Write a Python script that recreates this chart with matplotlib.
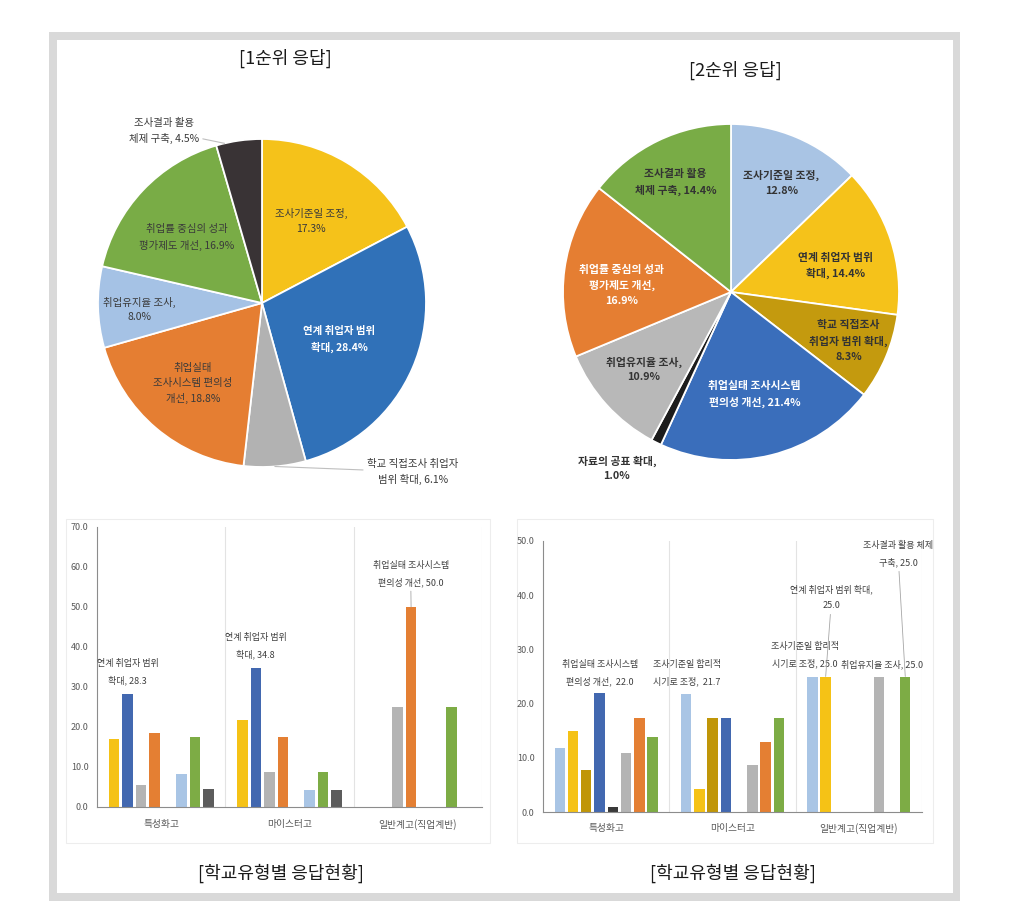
import numpy as np
import matplotlib.pyplot as plt
from matplotlib.patches import Rectangle

plt.rcParams['font.family'] = ['Noto Sans CJK KR', 'DejaVu Sans']

W, H = 1018, 908
NARROW = ['Liberation Sans Narrow', 'Noto Sans CJK KR', 'DejaVu Sans']

# ---- 1순위 응답 (pie) ----
pie1_fmt = ['조사기준일 조정,\n{:.1f}%', '연계 취업자 범위\n확대, {:.1f}%',
            '학교 직접조사 취업자\n범위 확대, {:.1f}%', '취업실태\n조사시스템 편의성\n개선, {:.1f}%',
            '취업유지율 조사,\n{:.1f}%', '취업률 중심의 성과\n평가제도 개선, {:.1f}%',
            '조사결과 활용\n체제 구축, {:.1f}%']
pie1_values = [17.3, 28.4, 6.1, 18.8, 8.0, 16.9, 4.5]
pie1_colors = ['#F5C21A', '#3071B8', '#B2B2B2', '#E57E32', '#A5C2E5', '#79AC46', '#393335']

# ---- 2순위 응답 (pie) ----
pie2_fmt = ['조사기준일 조정,\n{:.1f}%', '연계 취업자 범위\n확대, {:.1f}%',
            '학교 직접조사\n취업자 범위 확대,\n{:.1f}%', '취업실태 조사시스템\n편의성 개선, {:.1f}%',
            '자료의 공표 확대,\n{:.1f}%', '취업유지율 조사,\n{:.1f}%',
            '취업률 중심의 성과\n평가제도 개선,\n{:.1f}%', '조사결과 활용\n체제 구축, {:.1f}%']
pie2_values = [12.8, 14.4, 8.3, 21.4, 1.0, 10.9, 16.9, 14.4]
pie2_colors = ['#A9C4E4', '#F5C21A', '#C49A0E', '#3A6EBB', '#1C1C1C', '#B8B8B8', '#E57E32', '#79AC46']

# ---- 학교유형별 응답현황 ----
school_types = ['특성화고', '마이스터고', '일반계고(직업계반)']

bar1_values = [
    [17.0, 21.7, 0.0],   # 조사기준일 조정
    [28.3, 34.8, 0.0],   # 연계 취업자 범위 확대
    [5.5, 8.7, 25.0],    # 학교 직접조사 취업자 범위 확대
    [18.5, 17.4, 50.0],  # 취업실태 조사시스템 편의성 개선
    [0.0, 0.0, 0.0],     # 자료의 공표 확대
    [8.3, 4.3, 0.0],     # 취업유지율 조사
    [17.4, 8.7, 25.0],   # 취업률 중심의 성과평가제도 개선
    [4.5, 4.3, 0.0],     # 조사결과 활용 체제 구축
]
bar1_colors = ['#F5C216', '#4268B0', '#B4B4B4', '#E47F33', '#333333', '#A9C5E5', '#7DAC45', '#5C5C5C']

bar2_values = [
    [11.9, 21.7, 25.0],  # 조사기준일 합리적 시기로 조정
    [15.0, 4.3, 25.0],   # 연계 취업자 범위 확대
    [7.7, 17.4, 0.0],    # 학교 직접조사 취업자 범위 확대
    [22.0, 17.4, 0.0],   # 취업실태 조사시스템 편의성 개선
    [1.0, 0.0, 0.0],     # 자료의 공표 확대
    [10.8, 8.7, 25.0],   # 취업유지율 조사
    [17.4, 13.0, 0.0],   # 취업률 중심의 성과평가제도 개선
    [13.9, 17.4, 25.0],  # 조사결과 활용 체제 구축
]
bar2_colors = ['#A9C5E5', '#F5C216', '#C09608', '#4268B0', '#3A3A3A', '#B4B4B4', '#E47F33', '#7DAC45']


def box(x0, y0, x1, y1):
    return [x0 / W, 1 - y1 / H, (x1 - x0) / W, (y1 - y0) / H]


fig = plt.figure(figsize=(W / 100, H / 100), dpi=100)

# gray frame
fig.patches.append(Rectangle((49 / W, 1 - 901 / H), (960 - 49) / W, (901 - 32) / H,
                             transform=fig.transFigure, facecolor='#D9D9D9', edgecolor='none', zorder=-2))
fig.patches.append(Rectangle((57 / W, 1 - 893 / H), (953 - 57) / W, (893 - 40) / H,
                             transform=fig.transFigure, facecolor='white', edgecolor='none', zorder=-1))
# faint chart-area borders
for x0, y0, x1, y1 in [(66, 519, 490, 843), (517, 519, 933, 843)]:
    fig.patches.append(Rectangle((x0 / W, 1 - y1 / H), (x1 - x0) / W, (y1 - y0) / H,
                                 transform=fig.transFigure, facecolor='none', edgecolor='#EDEDED',
                                 lw=0.8, zorder=-1))


def pie_axes(cx, cy, r, values, colors):
    ax = fig.add_axes(box(cx - r, cy - r, cx + r, cy + r))
    wedges, _ = ax.pie(values, colors=colors, startangle=90, counterclock=False,
                       wedgeprops=dict(edgecolor='white', linewidth=1.3))
    ax.set_xlim(-1, 1)
    ax.set_ylim(-1, 1)
    ax.axis('off')
    return ax, wedges


# pie 1
ax_p1, w1 = pie_axes(262, 303, 164, pie1_values, pie1_colors)
p1_texts = [f.format(v) for f, v in zip(pie1_fmt, pie1_values)]
p1_xy = [(0.30, 0.50), (0.47, -0.22), (0.92, -1.03), (-0.42, -0.49),
         (-0.75, -0.04), (-0.46, 0.40), (-0.60, 1.05)]
p1_tc = ['#3A3A3A', 'white', '#3A3A3A', '#3A3A3A', '#3A3A3A', '#3A3A3A', '#3A3A3A']
for i, (t, (x, y), c) in enumerate(zip(p1_texts, p1_xy, p1_tc)):
    w = w1[i]
    if i in (2, 6):
        ang = np.deg2rad(w.theta2 - 3 if i == 6 else (w.theta1 + w.theta2) / 2)
        ax_p1.annotate(t, xy=(np.cos(ang), np.sin(ang)), xytext=(x, y), ha='center', va='center',
                       fontsize=7.5, color=c, linespacing=1.6, annotation_clip=False,
                       arrowprops=dict(arrowstyle='-', color='#BFBFBF', lw=0.8, shrinkA=1, shrinkB=0))
    else:
        ax_p1.text(x, y, t, ha='center', va='center', fontsize=7.5, color=c,
                   fontweight='bold' if c == 'white' else 'normal', linespacing=1.6)

# pie 2
ax_p2, w2 = pie_axes(731, 292, 168, pie2_values, pie2_colors)
p2_texts = [f.format(v) for f, v in zip(pie2_fmt, pie2_values)]
p2_xy = [(0.30, 0.65), (0.625, 0.155), (0.70, -0.29), (0.14, -0.61),
         (-0.68, -1.05), (-0.52, -0.46), (-0.65, 0.04), (-0.33, 0.65)]
p2_tc = ['#333333', '#333333', '#333333', 'white', '#333333', '#333333', 'white', '#333333']
for t, (x, y), c in zip(p2_texts, p2_xy, p2_tc):
    ax_p2.text(x, y, t, ha='center', va='center', fontsize=7.8, color=c,
               fontweight='bold', linespacing=1.6)

# titles
for x, y, t in [(285, 58, '[1순위 응답]'), (735, 70, '[2순위 응답]'),
                (281, 873, '[학교유형별 응답현황]'), (733, 873, '[학교유형별 응답현황]')]:
    fig.text(x / W, 1 - y / H, t, ha='center', va='center', fontsize=13,
             color='#1A1A1A', fontweight='light')


def bar_chart(rect, values, colors, ymax, xpad):
    ax = fig.add_axes(rect)
    ax.set_facecolor('none')
    pitch, bw = 0.105, 0.082
    x = np.arange(len(school_types))
    centers = []
    for i, (vals, c) in enumerate(zip(values, colors)):
        cx = x + 0.5 + (i - 3.5) * pitch
        centers.append(cx)
        ax.bar(cx, vals, width=bw, color=c)
    ax.set_xlim(0, 3)
    ax.set_ylim(0, ymax)
    yt = np.arange(0, ymax + 1, 10)
    ax.set_yticks(yt)
    ax.set_yticklabels([f'{v:.1f}' for v in yt], fontsize=6.5, color='#595959', family=NARROW)
    ax.set_xticks(x + 0.5)
    ax.set_xticklabels(school_types, fontsize=7, color='#595959', family=NARROW)
    ax.tick_params(length=0)
    ax.tick_params(axis='y', pad=6)
    ax.tick_params(axis='x', pad=xpad)
    for s in ['top', 'right']:
        ax.spines[s].set_visible(False)
    for s in ['left', 'bottom']:
        ax.spines[s].set_color('#8C8C8C')
        ax.spines[s].set_linewidth(0.8)
    for gx in [1, 2, 3]:
        ax.axvline(gx, color='#E3E3E3', lw=0.8, zorder=0)
    return ax, centers


lab = dict(ha='center', va='center', fontsize=6.5, color='#404040', family=NARROW, linespacing=2.0)
line = dict(arrowstyle='-', color='#A6A6A6', lw=0.6, shrinkA=1, shrinkB=0)

# bar chart 1
ax_b1, c1 = bar_chart(box(97, 527, 482, 807), bar1_values, bar1_colors, 70, 9)
ax_b1.text(0.24, 33.7, '연계 취업자 범위\n확대, {:.1f}'.format(bar1_values[1][0]), **lab)
ax_b1.text(1.237, 40.3, '연계 취업자 범위\n확대, {:.1f}'.format(bar1_values[1][1]), **lab)
ax_b1.annotate('취업실태 조사시스템\n편의성 개선, {:.1f}'.format(bar1_values[3][2]),
               xy=(c1[3][2], bar1_values[3][2]), xytext=(2.444, 58.3), arrowprops=line, **lab)

# bar chart 2
ax_b2, c2 = bar_chart(box(543, 541, 922, 812), bar2_values, bar2_colors, 50, 8)
ax_b2.text(0.451, 25.6, '취업실태 조사시스템\n편의성 개선,  {:.1f}'.format(bar2_values[3][0]), **lab)
ax_b2.text(1.137, 25.6, '조사기준일 합리적\n시기로 조정,  {:.1f}'.format(bar2_values[0][1]), **lab)
ax_b2.text(2.07, 29.0, '조사기준일 합리적\n시기로 조정, {:.1f}'.format(bar2_values[0][2]), **lab)
ax_b2.annotate('연계 취업자 범위 확대,\n{:.1f}'.format(bar2_values[1][2]),
               xy=(c2[1][2], bar2_values[1][2]), xytext=(2.285, 39.6), arrowprops=line, **lab)
ax_b2.text(2.685, 27.3, '취업유지율 조사, {:.1f}'.format(bar2_values[5][2]), **lab)
ax_b2.annotate('조사결과 활용 체제\n구축, {:.1f}'.format(bar2_values[7][2]),
               xy=(c2[7][2], bar2_values[7][2]), xytext=(2.81, 47.6), arrowprops=line, **lab)

fig.savefig('out.png', dpi=100)
